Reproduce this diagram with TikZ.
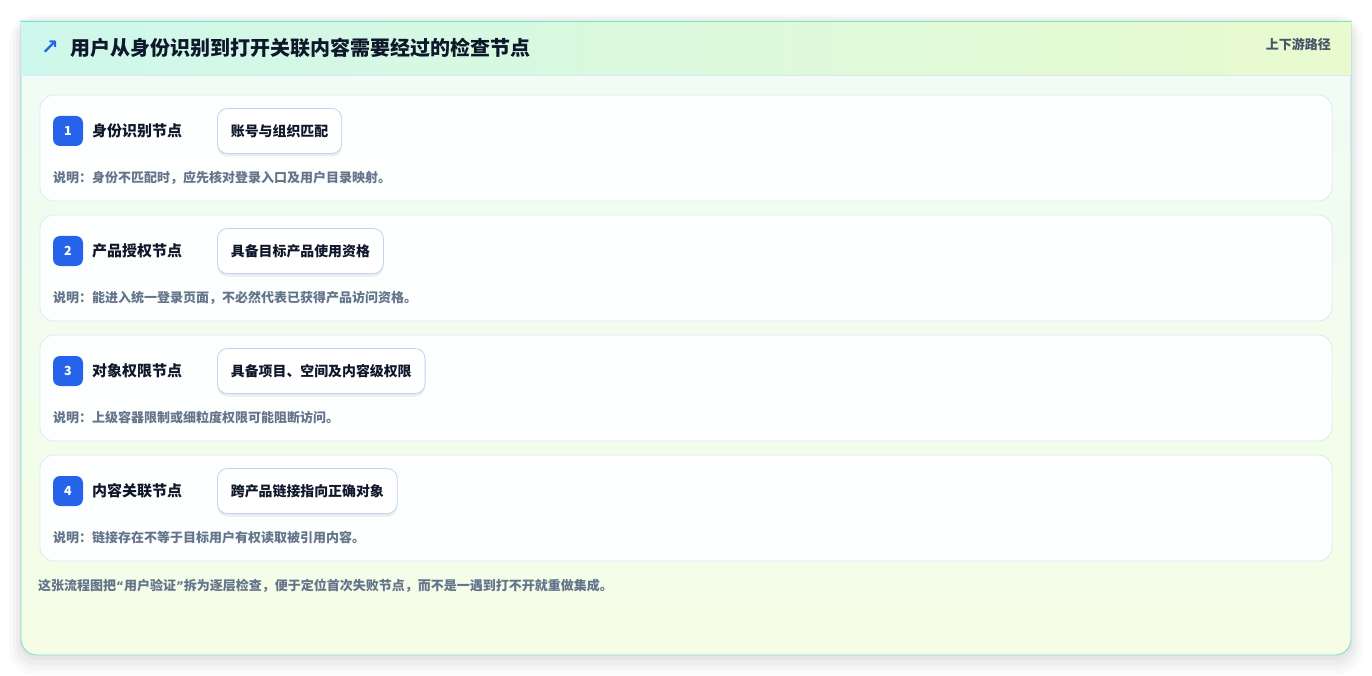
\documentclass[tikz,border=0pt]{standalone}
\usepackage{fontspec}
\setmainfont{Noto Sans CJK SC}
\newfontfamily\symfont{DejaVu Sans}
\usepackage{tikz}
\usetikzlibrary{calc,shadows}
\definecolor{card_edge}{RGB}{128, 222, 204}
\definecolor{head_l}{RGB}{206, 248, 236}
\definecolor{head_r}{RGB}{233, 250, 206}
\definecolor{body_t}{RGB}{239, 252, 247}
\definecolor{body_b}{RGB}{245, 253, 230}
\definecolor{row_edge}{RGB}{219, 233, 246}
\definecolor{row_fill}{RGB}{253, 255, 254}
\definecolor{chk_edge}{RGB}{192, 211, 240}
\definecolor{badge_blue}{RGB}{37, 99, 235}
\definecolor{ink}{RGB}{15, 23, 42}
\definecolor{note_gray}{RGB}{100, 116, 139}
\definecolor{tag_gray}{RGB}{71, 85, 105}
\newcommand{\nq}[1]{{\symfont\bfseries\fontsize{12}{13}\selectfont #1}}
\tikzstyle{rw}=[draw=row_edge,fill=row_fill,rounded corners=14pt,line width=0.8pt,
  minimum width=1292pt,minimum height=106pt,inner sep=0pt]
\tikzstyle{bn}=[fill=badge_blue,rounded corners=7pt,minimum width=30pt,minimum height=30pt,
  inner sep=0pt,text=white,font=\bfseries\fontsize{12.5}{12.5}\selectfont]
\tikzstyle{lb}=[anchor=west,inner sep=0pt,text=ink,font=\bfseries\fontsize{15}{15}\selectfont]
\tikzstyle{ck}=[anchor=west,draw=chk_edge,fill=white,rounded corners=10pt,line width=0.8pt,
  minimum height=45pt,inner xsep=13.5pt,text=ink,font=\bfseries\fontsize{13.9}{14}\selectfont,
  drop shadow={shadow xshift=0pt,shadow yshift=-3pt,opacity=0.07,fill=black}]
\tikzstyle{nt}=[anchor=west,inner sep=0pt,text=note_gray,font=\bfseries\fontsize{13}{13}\selectfont]
\tikzstyle{tt}=[anchor=west,inner sep=0pt,text=ink,font=\bfseries\fontsize{20}{20}\selectfont]
\tikzstyle{tg}=[anchor=east,inner sep=0pt,text=tag_gray,font=\bfseries\fontsize{13}{13}\selectfont]
\tikzstyle{none}=[]
\begin{document}
\begin{tikzpicture}[x=1pt,y=-1pt]
            \useasboundingbox (0,0) rectangle (1372,676);
            % soft shadow of the card
            \fill [black,opacity=0.018,rounded corners=26pt] (9,15) rectangle (1363,675);
            \fill [black,opacity=0.022,rounded corners=23pt] (13,17) rectangle (1359,670);
            \fill [black,opacity=0.028,rounded corners=20pt] (16,19) rectangle (1356,665);
            \fill [black,opacity=0.03,rounded corners=18pt] (19,20) rectangle (1353,660);
            % card
            \begin{scope}
                \clip (20,21) rectangle (1352,676);
                \shade [top color=body_t,bottom color=body_b,draw=card_edge,line width=0.9pt,
                  rounded corners=16pt] (21,-20) rectangle (1351,655);
            \end{scope}
            \shade [left color=head_l,right color=head_r] (21.45,21) rectangle (1350.55,75);
            \draw [row_edge,line width=0.8pt] (21.45,75) -- (1350.55,75);
            \draw [card_edge,line width=0.9pt] (21,21) -- (1351,21);
            \node [anchor=west,inner sep=0pt,text=badge_blue,font=\symfont\bfseries\fontsize{21}{21}\selectfont] (0) at (41,48) {↗};
            \node [style=tt] (t) at (70,48) {用户从身份识别到打开关联内容需要经过的检查节点};
            \node [style=tg] (g) at (1331,44) {上下游路径};
            % check rows
            \node [style=rw] (r1) at (686,148) {};
            \node [style=rw] (r2) at (686,268) {};
            \node [style=rw] (r3) at (686,388) {};
            \node [style=rw] (r4) at (686,508) {};
            \node [style=bn] (1) at (68,131) {1};
            \node [style=bn] (2) at (68,251) {2};
            \node [style=bn] (3) at (68,371) {3};
            \node [style=bn] (4) at (68,491) {4};
            \node [style=lb] (5) at (92,131) {身份识别节点};
            \node [style=lb] (6) at (92,251) {产品授权节点};
            \node [style=lb] (7) at (92,371) {对象权限节点};
            \node [style=lb] (8) at (92,491) {内容关联节点};
            \node [style=ck] (9) at (217,131) {账号与组织匹配};
            \node [style=ck] (10) at (217,251) {具备目标产品使用资格};
            \node [style=ck] (11) at (217,371) {具备项目、空间及内容级权限};
            \node [style=ck] (12) at (217,491) {跨产品链接指向正确对象};
            \node [style=nt] (13) at (53,178) {说明：身份不匹配时，应先核对登录入口及用户目录映射。};
            \node [style=nt] (14) at (53,298) {说明：能进入统一登录页面，不必然代表已获得产品访问资格。};
            \node [style=nt] (15) at (53,418) {说明：上级容器限制或细粒度权限可能阻断访问。};
            \node [style=nt] (16) at (53,538) {说明：链接存在不等于目标用户有权读取被引用内容。};
            \node [style=nt] (17) at (38,586) {这张流程图把\nq{“}用户验证\nq{”}拆为逐层检查，便于定位首次失败节点，而不是一遇到打不开就重做集成。};
\end{tikzpicture}
\end{document}
